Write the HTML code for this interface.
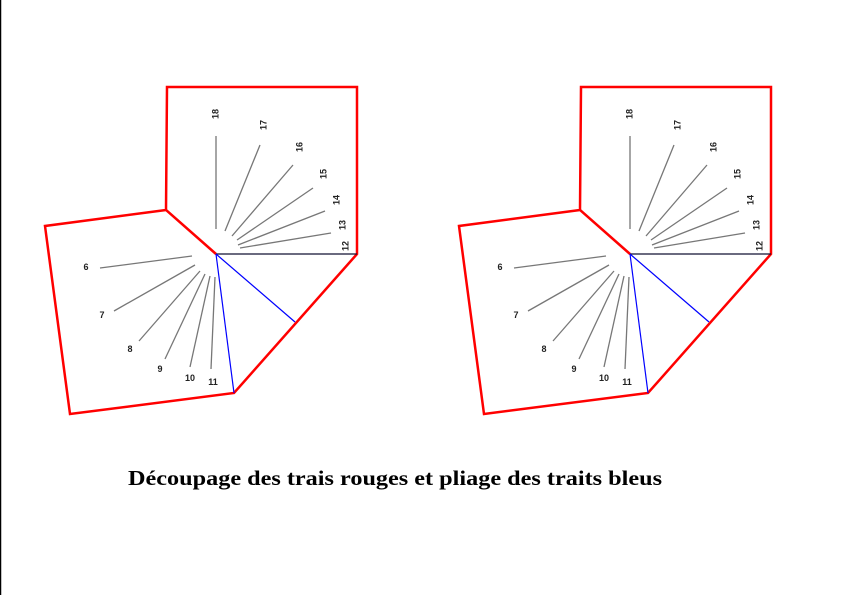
<!DOCTYPE html>
<html><head><meta charset="utf-8"><style>
html,body{margin:0;padding:0;background:#fff;}
svg{display:block;}
</style></head><body>
<svg width="843" height="595" viewBox="0 0 843 595" xmlns="http://www.w3.org/2000/svg">
<line x1="0.5" y1="0" x2="0.5" y2="595" stroke="#000" stroke-width="1.5"/>
<defs>
<g id="fig">
<polyline points="216,254 166,210 167,87 357,87 357,254 234,393 70,414 45,226 166,210" fill="none" stroke="#f00" stroke-width="2.5" stroke-linejoin="miter"/>
<g stroke-width="1.2">
<line x1="216" y1="254" x2="357" y2="254" stroke="#113"/>
<line x1="216" y1="254" x2="295" y2="322" stroke="#00f"/>
<line x1="216" y1="254" x2="234" y2="393" stroke="#00f"/>
</g>
<g stroke="#777" stroke-width="1.3">
<line x1="216" y1="136" x2="216" y2="229"/>
<line x1="260" y1="145" x2="225" y2="231"/>
<line x1="293" y1="165" x2="232" y2="236"/>
<line x1="313" y1="188" x2="237" y2="240"/>
<line x1="325" y1="211" x2="238" y2="245"/>
<line x1="331" y1="233" x2="240" y2="248"/>
<line x1="100" y1="268" x2="192" y2="256"/>
<line x1="114" y1="311" x2="195" y2="265"/>
<line x1="139" y1="341" x2="200" y2="271"/>
<line x1="165" y1="359" x2="205" y2="274"/>
<line x1="190" y1="367" x2="210" y2="276"/>
<line x1="211" y1="369" x2="215" y2="277"/>
</g>
<g font-family="Liberation Sans, sans-serif" font-weight="bold" font-size="9" fill="#222" text-anchor="middle">
<text transform="translate(216,114) rotate(-90)" dominant-baseline="middle">18</text>
<text transform="translate(264,125) rotate(-90)" dominant-baseline="middle">17</text>
<text transform="translate(300,147) rotate(-90)" dominant-baseline="middle">16</text>
<text transform="translate(324,174) rotate(-90)" dominant-baseline="middle">15</text>
<text transform="translate(337,200) rotate(-90)" dominant-baseline="middle">14</text>
<text transform="translate(343,225) rotate(-90)" dominant-baseline="middle">13</text>
<text transform="translate(346,246) rotate(-90)" dominant-baseline="middle">12</text>
<text x="86" y="270">6</text>
<text x="102" y="318">7</text>
<text x="130" y="352">8</text>
<text x="160" y="372">9</text>
<text x="190" y="381">10</text>
<text x="213" y="385">11</text>
</g>
</g>
</defs>
<use href="#fig"/>
<use href="#fig" transform="translate(414,0)"/>
<text x="128" y="485" font-family="Liberation Serif, serif" font-weight="bold" font-size="21" textLength="534" lengthAdjust="spacingAndGlyphs">Découpage des trais rouges et pliage des traits bleus</text>
</svg>
</body></html>
